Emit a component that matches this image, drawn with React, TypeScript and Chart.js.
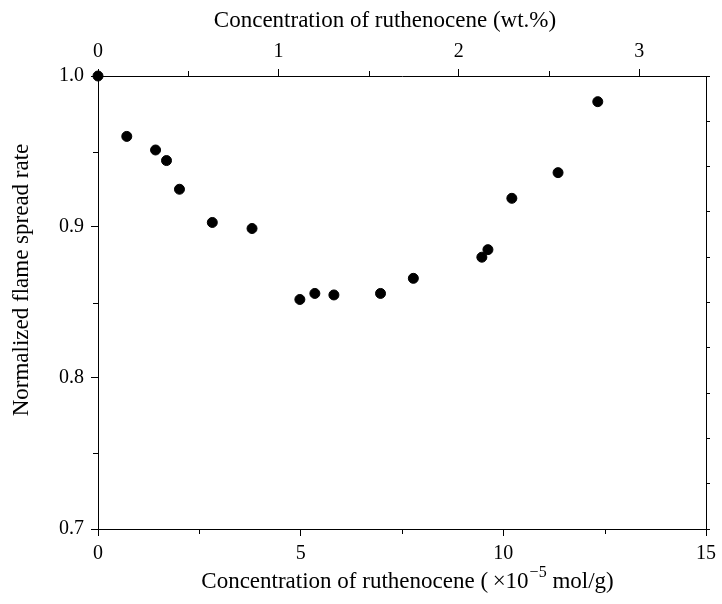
import React, { useEffect, useRef } from 'react';
import { Chart, registerables } from 'chart.js';

Chart.register(...registerables);

// ---- data (x in 10^-5 mol/g, y normalized flame spread rate)
const molConc = [0, 0.71, 1.42, 1.69, 2.01, 2.82, 3.8, 4.98, 5.35, 5.82, 6.97, 7.78, 9.47, 9.62, 10.21, 11.35, 12.33];
const flameRate = [1.0, 0.96, 0.951, 0.944, 0.925, 0.903, 0.899, 0.852, 0.856, 0.855, 0.856, 0.866, 0.88, 0.885, 0.919, 0.936, 0.983];

const xMinorTicks = [2.5, 7.5, 12.5];
const yMinorTicks = [0.75, 0.85, 0.95];
const topMinorTicks = [0.5, 1.5, 2.5];
const wtMax = 3.37;

const FONT = "'Liberation Serif', 'Times New Roman', serif";
const TOP_TITLE = 'Concentration of ruthenocene (wt.%)';
const LEFT_TITLE = 'Normalized flame spread rate';
const TITLE_MAIN = 'Concentration of ruthenocene (\u2009\u00d710';
const TITLE_SUP = '\u22125';
const TITLE_END = ' mol/g)';

const minorTickPlugin = {
  id: 'minorTicks',
  afterDraw(chart: any) {
    const ctx = chart.ctx;
    const a = chart.chartArea;
    const { x, x2, y } = chart.scales;
    ctx.save();
    ctx.strokeStyle = '#000';
    ctx.lineWidth = 1;
    ctx.beginPath();
    for (const v of yMinorTicks) {
      const py = Math.round(y.getPixelForValue(v)) + 0.5;
      ctx.moveTo(a.left - 5, py);
      ctx.lineTo(a.left, py);
    }
    for (const v of xMinorTicks) {
      const px = Math.round(x.getPixelForValue(v)) + 0.5;
      ctx.moveTo(px, a.bottom);
      ctx.lineTo(px, a.bottom + 5);
    }
    for (const v of topMinorTicks) {
      const px = Math.round(x2.getPixelForValue(v)) + 0.5;
      ctx.moveTo(px, a.top);
      ctx.lineTo(px, a.top - 5);
    }
    ctx.stroke();

    const big = `23px ${FONT}`;
    const small = `16px ${FONT}`;
    ctx.fillStyle = '#000';

    // top title
    ctx.font = big;
    ctx.textAlign = 'center';
    ctx.textBaseline = 'middle';
    ctx.fillText(TOP_TITLE, 385, 21);

    // left title
    ctx.save();
    ctx.translate(22, 280);
    ctx.rotate(-Math.PI / 2);
    ctx.fillText(LEFT_TITLE, 0, 0);
    ctx.restore();

    // bottom title with superscript
    ctx.textBaseline = 'alphabetic';
    ctx.textAlign = 'left';
    ctx.font = big;
    const w1 = ctx.measureText(TITLE_MAIN).width;
    const w3 = ctx.measureText(TITLE_END).width;
    ctx.font = small;
    const w2 = ctx.measureText(TITLE_SUP).width;
    const total = w1 + w2 + w3;
    const cx = (a.left + a.right) / 2 + 5;
    let sx = cx - total / 2;
    const base = 588;
    ctx.font = big;
    ctx.fillText(TITLE_MAIN, sx, base);
    sx += w1;
    ctx.font = small;
    ctx.fillText(TITLE_SUP, sx + 1, base - 11);
    sx += w2 + 1;
    ctx.font = big;
    ctx.fillText(TITLE_END, sx, base);
    ctx.restore();
  },
};

const axisCommon = {
  grid: { display: true, drawOnChartArea: false, drawTicks: true, tickLength: 7, tickColor: '#000', tickWidth: 1 },
  border: { display: true, color: '#000', width: 1 },
};

export default function App() {
  const ref = useRef<HTMLCanvasElement | null>(null);
  useEffect(() => {
    if (!ref.current) return;
    const chart = new Chart(ref.current, {
      type: 'scatter',
      data: {
        datasets: [
          {
            data: molConc.map((v, i) => ({ x: v, y: flameRate[i] })),
            backgroundColor: '#000',
            borderColor: '#000',
            pointRadius: 5,
            pointHoverRadius: 5,
            clip: false,
            xAxisID: 'x',
            yAxisID: 'y',
          },
        ],
      },
      options: {
        responsive: false,
        animation: false,
        layout: { padding: 0 },
        plugins: { legend: { display: false }, tooltip: { enabled: false } },
        scales: {
          x: {
            type: 'linear',
            position: 'bottom',
            min: 0,
            max: 15,
            ...axisCommon,
            ticks: { stepSize: 5, color: '#000', padding: 6, font: { family: FONT, size: 20 }, callback: (v: any) => String(v) },
            afterFit: (s: any) => { s.height = 75; },
          },
          x2: {
            type: 'linear',
            position: 'top',
            min: 0,
            max: wtMax,
            ...axisCommon,
            ticks: { stepSize: 1, includeBounds: false, color: '#000', padding: 5, font: { family: FONT, size: 20 }, callback: (v: any) => String(v) },
            afterFit: (s: any) => { s.height = 76; },
          },
          y: {
            type: 'linear',
            position: 'left',
            min: 0.7,
            max: 1.0,
            ...axisCommon,
            ticks: { stepSize: 0.1, color: '#000', padding: 7, font: { family: FONT, size: 20 }, callback: (v: any) => Number(v).toFixed(1) },
            afterFit: (s: any) => { s.width = 98; },
          },
          y2: {
            type: 'linear',
            position: 'right',
            min: 0,
            max: 10,
            ...axisCommon,
            grid: { ...axisCommon.grid, tickLength: 4 },
            ticks: { stepSize: 1, display: false },
            afterFit: (s: any) => { s.width = 14; },
          },
        },
      },
      plugins: [minorTickPlugin],
    } as any);
    return () => chart.destroy();
  }, []);
  return (
    <div style={{ position: 'fixed', left: 0, top: 0, width: 722, height: 604, background: '#fff' }}>
      <canvas ref={ref} width={722} height={604} style={{ display: 'block' }} />
    </div>
  );
}
